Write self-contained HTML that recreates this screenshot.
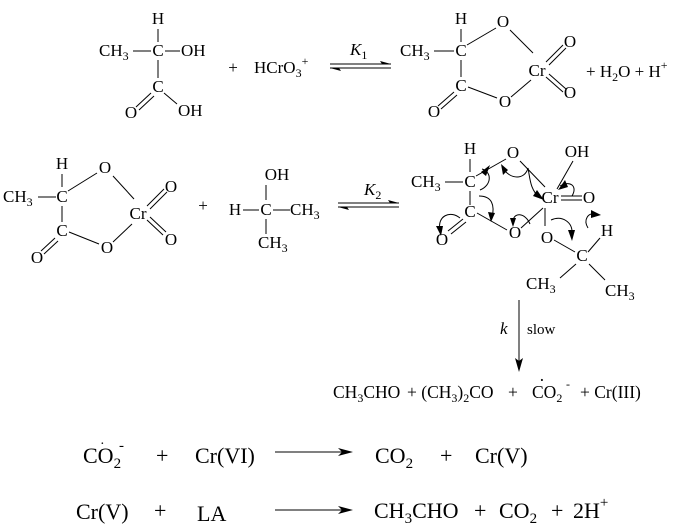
<!DOCTYPE html>
<html><head><meta charset="utf-8"><style>
html,body{margin:0;padding:0;background:#fff;}
svg{display:block}
text{font-family:"Liberation Serif",serif;font-size:17px;fill:#000;white-space:pre}
.m{text-anchor:middle}
.b{font-size:22px}
.s{font-size:17.5px}
line,path{stroke:#000;stroke-width:1;fill:none}
.ah{fill:#000;stroke:none}
</style></head><body>
<svg width="696" height="529" viewBox="0 0 696 529" xmlns="http://www.w3.org/2000/svg">
<!-- Row1 lactic acid -->
<text class="m" x="158" y="24">H</text>
<line x1="158" y1="29" x2="158" y2="42"/>
<text x="99" y="56">CH<tspan font-size="12" dy="4">3</tspan></text>
<line x1="133" y1="51" x2="151" y2="51"/>
<text class="m" x="158" y="56">C</text>
<line x1="165" y1="51" x2="180" y2="51"/>
<text x="181" y="56">OH</text>
<line x1="158" y1="60" x2="158" y2="78"/>
<text class="m" x="158" y="92">C</text>
<line x1="151" y1="93" x2="136" y2="107"/><line x1="154" y1="96" x2="139" y2="110"/>
<line x1="164" y1="93" x2="177" y2="104"/>
<text class="m" x="131" y="118">O</text>
<text x="178" y="116">OH</text>
<text class="m" x="233" y="73">+</text>
<text x="254" y="73">HCrO<tspan font-size="12" dy="4">3</tspan><tspan font-size="12" dy="-12">+</tspan></text>
<!-- eq K1 -->
<line x1="330" y1="64" x2="391" y2="64"/><line x1="330" y1="68" x2="391" y2="68"/>
<path class="ah" d="M391 64 L380 61 L382 64Z"/><path class="ah" d="M330 68 L341 71 L339 68Z"/>
<text x="350" y="55" font-style="italic">K<tspan font-size="12" dy="4" font-style="normal">1</tspan></text>
<!-- product 1 -->
<text class="m" x="461" y="24">H</text>
<line x1="461" y1="29" x2="461" y2="42"/>
<text x="400" y="56">CH<tspan font-size="12" dy="4">3</tspan></text>
<line x1="434" y1="51" x2="454" y2="51"/>
<text class="m" x="461" y="56">C</text>
<line x1="467" y1="45" x2="496" y2="28"/>
<text class="m" x="503" y="27">O</text>
<line x1="510" y1="30" x2="533" y2="53"/>
<text class="m" x="537" y="76">Cr</text>
<line x1="546" y1="62" x2="563" y2="45"/><line x1="549" y1="65" x2="566" y2="48"/>
<text class="m" x="570" y="47">O</text>
<line x1="546" y1="77" x2="563" y2="92"/><line x1="549" y1="74" x2="566" y2="89"/>
<text class="m" x="570" y="98">O</text>
<line x1="461" y1="60" x2="461" y2="77"/>
<text class="m" x="461" y="91">C</text>
<line x1="468" y1="87" x2="497" y2="98"/>
<text class="m" x="505" y="107">O</text>
<line x1="511" y1="97" x2="531" y2="80"/>
<line x1="454" y1="92" x2="438" y2="106"/><line x1="457" y1="95" x2="441" y2="109"/>
<text class="m" x="434" y="117">O</text>
<text x="586" y="77">+ H<tspan font-size="12" dy="4">2</tspan><tspan dy="-4">O + H</tspan><tspan font-size="12" dy="-8">+</tspan></text>
<!-- Row2 -->
<text class="m" x="62" y="169">H</text>
<line x1="62" y1="174" x2="62" y2="187"/>
<text x="3" y="202">CH<tspan font-size="12" dy="4">3</tspan></text>
<line x1="38" y1="197" x2="56" y2="197"/>
<text class="m" x="62" y="202">C</text>
<line x1="68" y1="191" x2="97" y2="173"/>
<text class="m" x="105" y="173">O</text>
<line x1="113" y1="176" x2="134" y2="199"/>
<text class="m" x="138" y="219">Cr</text>
<line x1="147" y1="206" x2="164" y2="189"/><line x1="150" y1="209" x2="167" y2="192"/>
<text class="m" x="171" y="192">O</text>
<line x1="147" y1="220" x2="163" y2="235"/><line x1="150" y1="217" x2="166" y2="232"/>
<text class="m" x="171" y="245">O</text>
<line x1="62" y1="206" x2="62" y2="222"/>
<text class="m" x="62" y="236">C</text>
<line x1="69" y1="232" x2="99" y2="244"/>
<text class="m" x="107" y="253">O</text>
<line x1="113" y1="242" x2="132" y2="224"/>
<line x1="55" y1="238" x2="41" y2="251"/><line x1="58" y1="241" x2="44" y2="254"/>
<text class="m" x="37" y="263">O</text>
<text class="m" x="203" y="211">+</text>
<text class="m" x="277" y="180">OH</text>
<line x1="266" y1="185" x2="266" y2="200"/>
<text class="m" x="235" y="215">H</text>
<line x1="243" y1="210" x2="259" y2="210"/>
<text class="m" x="266" y="215">C</text>
<line x1="273" y1="210" x2="290" y2="210"/>
<text x="290" y="215">CH<tspan font-size="12" dy="4">3</tspan></text>
<line x1="266" y1="219" x2="266" y2="234"/>
<text x="258" y="248">CH<tspan font-size="12" dy="4">3</tspan></text>
<!-- eq K2 -->
<line x1="338" y1="203" x2="399" y2="203"/><line x1="338" y1="207" x2="399" y2="207"/>
<path class="ah" d="M399 203 L388 200 L390 203Z"/><path class="ah" d="M338 207 L349 210 L347 207Z"/>
<text x="364" y="195" font-style="italic">K<tspan font-size="12" dy="4" font-style="normal">2</tspan></text>
<!-- intermediate -->
<text class="m" x="470" y="154">H</text>
<line x1="470" y1="159" x2="470" y2="172"/>
<text x="411" y="187">CH<tspan font-size="12" dy="4">3</tspan></text>
<line x1="445" y1="182" x2="463" y2="182"/>
<text class="m" x="470" y="187">C</text>
<line x1="476" y1="176" x2="506" y2="159"/>
<text class="m" x="513" y="158">O</text>
<line x1="520" y1="161" x2="545" y2="187"/>
<text class="m" x="577" y="157">OH</text>
<line x1="573" y1="161" x2="557" y2="189"/>
<text class="m" x="550" y="203">Cr</text>
<line x1="561" y1="196" x2="582" y2="196"/><line x1="561" y1="200" x2="582" y2="200"/>
<text class="m" x="589" y="203">O</text>
<line x1="470" y1="191" x2="470" y2="205"/>
<text class="m" x="470" y="217">C</text>
<line x1="477" y1="213" x2="507" y2="230"/>
<text class="m" x="515" y="238">O</text>
<line x1="521" y1="228" x2="543" y2="208"/>
<line x1="463" y1="219" x2="448" y2="231"/><line x1="466" y1="222" x2="451" y2="234"/>
<text class="m" x="442" y="245">O</text>
<line x1="545" y1="208" x2="545" y2="226"/>
<text class="m" x="547" y="243">O</text>
<line x1="554" y1="240" x2="575" y2="252"/>
<text class="m" x="582" y="261">C</text>
<line x1="588" y1="252" x2="600" y2="238"/>
<text class="m" x="607" y="236">H</text>
<line x1="576" y1="264" x2="560" y2="278"/>
<line x1="589" y1="264" x2="605" y2="280"/>
<text x="526" y="289">CH<tspan font-size="12" dy="4">3</tspan></text>
<text x="605" y="296">CH<tspan font-size="12" dy="4">3</tspan></text>
<!-- curly arrows -->
<path d="M482 169 C492 172 492 185 480 190"/><path class="ah" d="M490 165 L486 176 L481 172Z"/>
<path d="M479 196 C492 196 495 205 492 218"/><path class="ah" d="M491 222 L488 212 L495 213Z"/>
<path d="M528 168 C525 180 510 180 503 168"/><path class="ah" d="M501 164 L503 175 L508 170Z"/>
<path d="M528 168 C530 178 530 190 540 198"/><path class="ah" d="M544 200 L533 196 L537 190Z"/>
<path d="M560 186 C570 180 578 186 572 196"/><path class="ah" d="M558 190 L565 180 L568 187Z"/>
<path d="M530 224 C525 212 513 212 513 222"/><path class="ah" d="M513 227 L510 218 L516 218Z"/>
<path d="M460 218 C450 210 437 216 440 230"/><path class="ah" d="M441 236 L436 226 L443 226Z"/>
<path d="M551 220 C562 215 573 222 572 234"/><path class="ah" d="M572 241 L568 230 L575 230Z"/>
<path d="M588 228 C583 220 588 212 596 214"/><path class="ah" d="M601 215 L591 210 L591 218Z"/>
<!-- down arrow -->
<line x1="519" y1="300" x2="519" y2="362"/><path class="ah" d="M519 372 L515 358 L519 361 L523 358Z"/>
<text x="500" y="334" font-style="italic">k</text>
<text x="527" y="334" style="font-size:15px">slow</text>
<!-- products line -->
<text class="s" x="333" y="398">CH<tspan font-size="12" dy="4">3</tspan><tspan dy="-4">CHO</tspan></text>
<text class="s" x="407" y="398">+ (CH<tspan font-size="12" dy="4">3</tspan><tspan dy="-4">)</tspan><tspan font-size="12" dy="4">2</tspan><tspan dy="-4">CO</tspan></text>
<text class="s" x="508" y="398">+</text>
<text class="s" x="532" y="398">CO<tspan font-size="12" dy="4">2</tspan></text>
<text class="s" x="539" y="386">·</text>
<text class="s" x="566" y="388" style="font-size:12px">-</text>
<text class="s" x="580" y="398">+ Cr(III)</text>
<!-- row 4 -->
<text class="b" x="83" y="463">CO<tspan font-size="15" dy="5">2</tspan></text>
<text class="b" x="100" y="448" style="font-size:14px">·</text>
<text class="b" x="119" y="450" style="font-size:15px">-</text>
<text class="b" x="156" y="463">+</text>
<text class="b" x="195" y="463">Cr(VI)</text>
<line x1="275" y1="452" x2="345" y2="452"/><path class="ah" d="M353 452 L338 448 L342 452 L338 456Z"/>
<text class="b" x="375" y="463">CO<tspan font-size="15" dy="5">2</tspan></text>
<text class="b" x="440" y="463">+</text>
<text class="b" x="475" y="463">Cr(V)</text>
<text class="b" x="76" y="519">Cr(V)</text>
<text class="b" x="154" y="518">+</text>
<text class="b" x="197" y="521">LA</text>
<line x1="275" y1="510" x2="345" y2="510"/><path class="ah" d="M353 510 L338 506 L342 510 L338 514Z"/>
<text class="b" x="374" y="518">CH<tspan font-size="15" dy="5">3</tspan><tspan dy="-5">CHO</tspan></text>
<text class="b" x="474" y="518">+</text>
<text class="b" x="499" y="518">CO<tspan font-size="15" dy="5">2</tspan></text>
<text class="b" x="551" y="518">+</text>
<text class="b" x="573" y="518">2H<tspan font-size="15" dy="-11">+</tspan></text>
</svg>
</body></html>
